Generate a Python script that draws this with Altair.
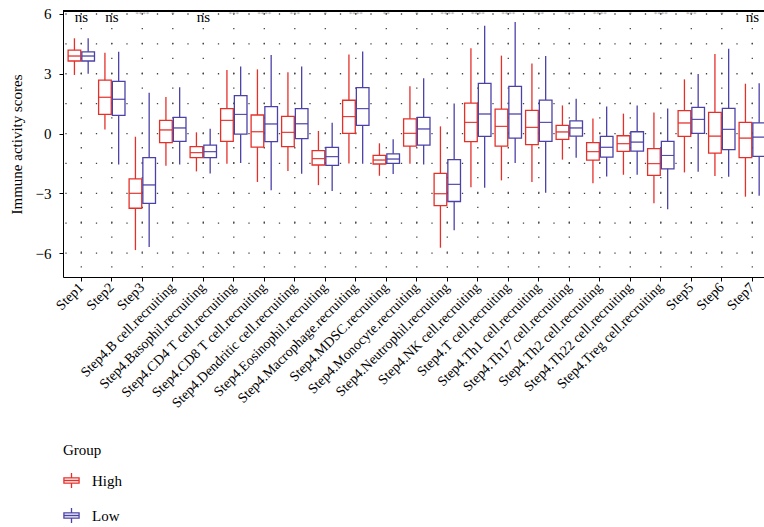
import altair as alt
import pandas as pd

categories = ["Step1", "Step2", "Step3", "Step4.B cell.recruiting", "Step4.Basophil.recruiting",
              "Step4.CD4 T cell.recruiting", "Step4.CD8 T cell.recruiting", "Step4.Dendritic cell.recruiting",
              "Step4.Eosinophil.recruiting", "Step4.Macrophage.recruiting", "Step4.MDSC.recruiting",
              "Step4.Monocyte.recruiting", "Step4.Neutrophil.recruiting", "Step4.NK cell.recruiting",
              "Step4.T cell.recruiting", "Step4.Th1 cell.recruiting", "Step4.Th17 cell.recruiting",
              "Step4.Th2 cell.recruiting", "Step4.Th22 cell.recruiting", "Step4.Treg cell.recruiting",
              "Step5", "Step6", "Step7"]
groups = ["High", "Low"]

high_upper = [4.78, 4.05, -0.16, 1.83, 0.06, 3.19, 3.22, 3.07, 0.13, 3.97, -0.49, 2.37, 0.36, 4.28, 3.91, 3.52, 1.41, 0.76, 1.0, 1.06, 2.72, 3.99, 2.5]
high_q3 = [4.19, 2.68, -2.28, 0.66, -0.66, 1.25, 0.93, 0.86, -0.86, 1.67, -1.1, 0.74, -2.0, 1.53, 1.23, 1.16, 0.41, -0.46, -0.11, -0.76, 1.15, 1.06, 0.56]
high_med = [3.89, 1.82, -3.0, 0.18, -0.96, 0.66, 0.09, 0.06, -1.26, 0.85, -1.33, 0.01, -3.02, 0.56, 0.36, 0.31, 0.08, -0.91, -0.51, -1.51, 0.53, -0.13, -0.23]
high_q1 = [3.64, 0.96, -3.75, -0.46, -1.21, -0.39, -0.68, -0.66, -1.58, 0.01, -1.53, -0.63, -3.62, -0.41, -0.63, -0.56, -0.29, -1.33, -0.9, -2.1, -0.14, -0.98, -1.21]
high_lower = [2.94, 0.2, -5.85, -1.62, -1.9, -1.51, -2.43, -1.88, -2.59, -1.5, -2.12, -1.51, -5.73, -2.7, -2.35, -2.43, -1.31, -2.5, -2.07, -3.5, -1.95, -2.13, -3.17]

low_upper = [4.78, 4.11, 2.05, 2.32, 0.24, 3.36, 3.94, 3.37, 0.54, 4.12, -0.29, 2.77, 1.51, 5.41, 5.6, 3.89, 1.75, 1.36, 1.41, 1.26, 2.99, 4.26, 2.52]
low_q3 = [4.1, 2.62, -1.21, 0.81, -0.58, 1.9, 1.35, 1.25, -0.69, 2.3, -1.02, 0.81, -1.31, 2.52, 2.37, 1.68, 0.64, -0.14, 0.09, -0.39, 1.31, 1.26, 0.54]
low_med = [3.89, 1.72, -2.58, 0.28, -0.91, 0.96, 0.48, 0.49, -1.16, 1.25, -1.28, 0.23, -2.55, 0.98, 0.98, 0.56, 0.28, -0.69, -0.43, -1.1, 0.71, 0.21, -0.18]
low_q1 = [3.64, 0.91, -3.5, -0.39, -1.21, -0.03, -0.41, -0.26, -1.6, 0.41, -1.5, -0.58, -3.41, -0.14, -0.23, -0.39, -0.13, -1.18, -0.88, -1.77, 0.01, -0.81, -1.15]
low_lower = [3.0, -1.55, -5.7, -1.56, -2.0, -1.48, -2.84, -2.02, -2.88, -1.51, -2.03, -1.56, -4.85, -2.72, -1.48, -2.97, -1.21, -2.15, -2.07, -3.8, -1.92, -2.17, -3.12]

significance = ["ns", "ns", "****", "*", "ns", "***", "****", "***", "*", "****", "**", "*", "****",
                "****", "****", "***", "***", "****", "*", "****", "***", "*", "ns"]

y_ticks = [-6, -3, 0, 3, 6]
grid_values = [-6, -4.5, -3, -1.5, 0, 1.5, 3, 4.5, 6]

RED = "#E5302A"
BLUE = "#4B42A8"
FONT = "Liberation Serif"

rows = []
for i, c in enumerate(categories):
    rows.append(dict(Category=c, Group="High", lower=high_lower[i], q1=high_q1[i], median=high_med[i], q3=high_q3[i], upper=high_upper[i]))
    rows.append(dict(Category=c, Group="Low", lower=low_lower[i], q1=low_q1[i], median=low_med[i], q3=low_q3[i], upper=low_upper[i]))
df = pd.DataFrame(rows)
sig_df = pd.DataFrame({"Category": categories, "sig": significance})
hgrid_df = pd.DataFrame({"v": grid_values})
cat_df = pd.DataFrame({"Category": categories})

W = 701
H = 266
STEP = 30.5
RANGE_END = STEP * 23.2

xscale = alt.Scale(domain=categories, paddingInner=0, paddingOuter=0.1, range=[0, RANGE_END])
yscale = alt.Scale(domain=[-7.2, 6.15], nice=False, zero=False)
color_scale = alt.Scale(domain=groups, range=[RED, BLUE])

x_enc = alt.X("Category:N", sort=categories, scale=xscale, title=None,
              axis=alt.Axis(labelAngle=-45, labelAlign="right", labelBaseline="middle",
                            labelFontSize=14, labelFont=FONT, labelColor="black",
                            tickSize=4, tickColor="black", domainColor="black",
                            labelPadding=4, bandPosition=0.5, grid=False, labelOverlap=False))
xoff = alt.XOffset("Group:N", scale=alt.Scale(domain=groups, paddingInner=0.08, paddingOuter=0.15))

legend_path = "M-1,-0.35H1V0.35H-1Z M-1,0H1 M0,-1V-0.35 M0,0.35V1"

hgrid = alt.Chart(hgrid_df).mark_rule(color="#444", strokeWidth=1.3, strokeDash=[1.3, 13.95], strokeDashOffset=-17.6).encode(
    y=alt.Y("v:Q", scale=yscale, title="Immune activity scores",
            axis=alt.Axis(values=y_ticks, grid=False, tickSize=4, tickColor="black", domainColor="black",
                          labelFontSize=15, labelFont=FONT, labelColor="black", labelPadding=8,
                          titleFontSize=15, titleFont=FONT, titleFontWeight="normal", titleColor="black",
                          titlePadding=11)),
    x=alt.value(0), x2=alt.value(W),
)

vgrid = alt.Chart(cat_df).mark_rule(color="#444", strokeWidth=1.3, strokeDash=[1.3, 13.6], strokeDashOffset=-2).encode(
    x=x_enc, y=alt.value(0), y2=alt.value(H),
)

top_line = alt.Chart(cat_df).mark_rule(color="black", strokeWidth=1.2).encode(
    y=alt.value(0), x=alt.value(0), x2=alt.value(W + 20))

base = alt.Chart(df).encode(x=x_enc, xOffset=xoff)

box_fill = base.mark_bar(color="white").encode(
    y=alt.Y("q1:Q", scale=yscale), y2="q3:Q",
)
box_outline = base.mark_bar(filled=False, strokeWidth=1.3).encode(
    y=alt.Y("q1:Q", scale=yscale), y2="q3:Q",
    stroke=alt.Stroke("Group:N", scale=color_scale, title="Group",
                      legend=alt.Legend(orient="none", legendX=0, legendY=432, symbolType=legend_path,
                                        symbolSize=230, symbolStrokeWidth=1.3, symbolFillColor="white",
                                        titleFontSize=15, titleFont=FONT, titleFontWeight="normal",
                                        titleColor="black", labelFontSize=15, labelFont=FONT,
                                        labelColor="black", rowPadding=14, labelOffset=12, titlePadding=14)),
)
whisk_lo = base.mark_rule(strokeWidth=1.3).encode(
    y=alt.Y("lower:Q", scale=yscale), y2="q1:Q",
    stroke=alt.Stroke("Group:N", scale=color_scale, legend=None),
)
whisk_hi = base.mark_rule(strokeWidth=1.3).encode(
    y=alt.Y("q3:Q", scale=yscale), y2="upper:Q",
    stroke=alt.Stroke("Group:N", scale=color_scale, legend=None),
)
med = base.mark_bar(filled=False, strokeWidth=0.8).encode(
    y=alt.Y("median:Q", scale=yscale), y2="median:Q",
    stroke=alt.Stroke("Group:N", scale=color_scale, legend=None),
)

sig_ns = alt.Chart(sig_df).transform_filter(alt.datum.sig == "ns").mark_text(
    fontSize=15, font=FONT, color="black", baseline="middle").encode(
    x=x_enc, y=alt.datum(5.85), text="sig:N")
sig_star = alt.Chart(sig_df).transform_filter(alt.datum.sig != "ns").mark_text(
    fontSize=7, font=FONT, color="#999", baseline="middle").encode(
    x=x_enc, y=alt.datum(6.0), text="sig:N")

chart = alt.layer(hgrid, vgrid, top_line, box_fill, box_outline, whisk_lo, whisk_hi, med, sig_ns, sig_star).properties(
    width=W, height=H,
    autosize=alt.AutoSizeParams(type="none"),
    padding={"left": 63, "top": 11, "right": 0, "bottom": 250},
).configure_view(stroke=None).configure(font=FONT)

chart.save("out.html", embed_options={"renderer": "svg", "actions": False})
